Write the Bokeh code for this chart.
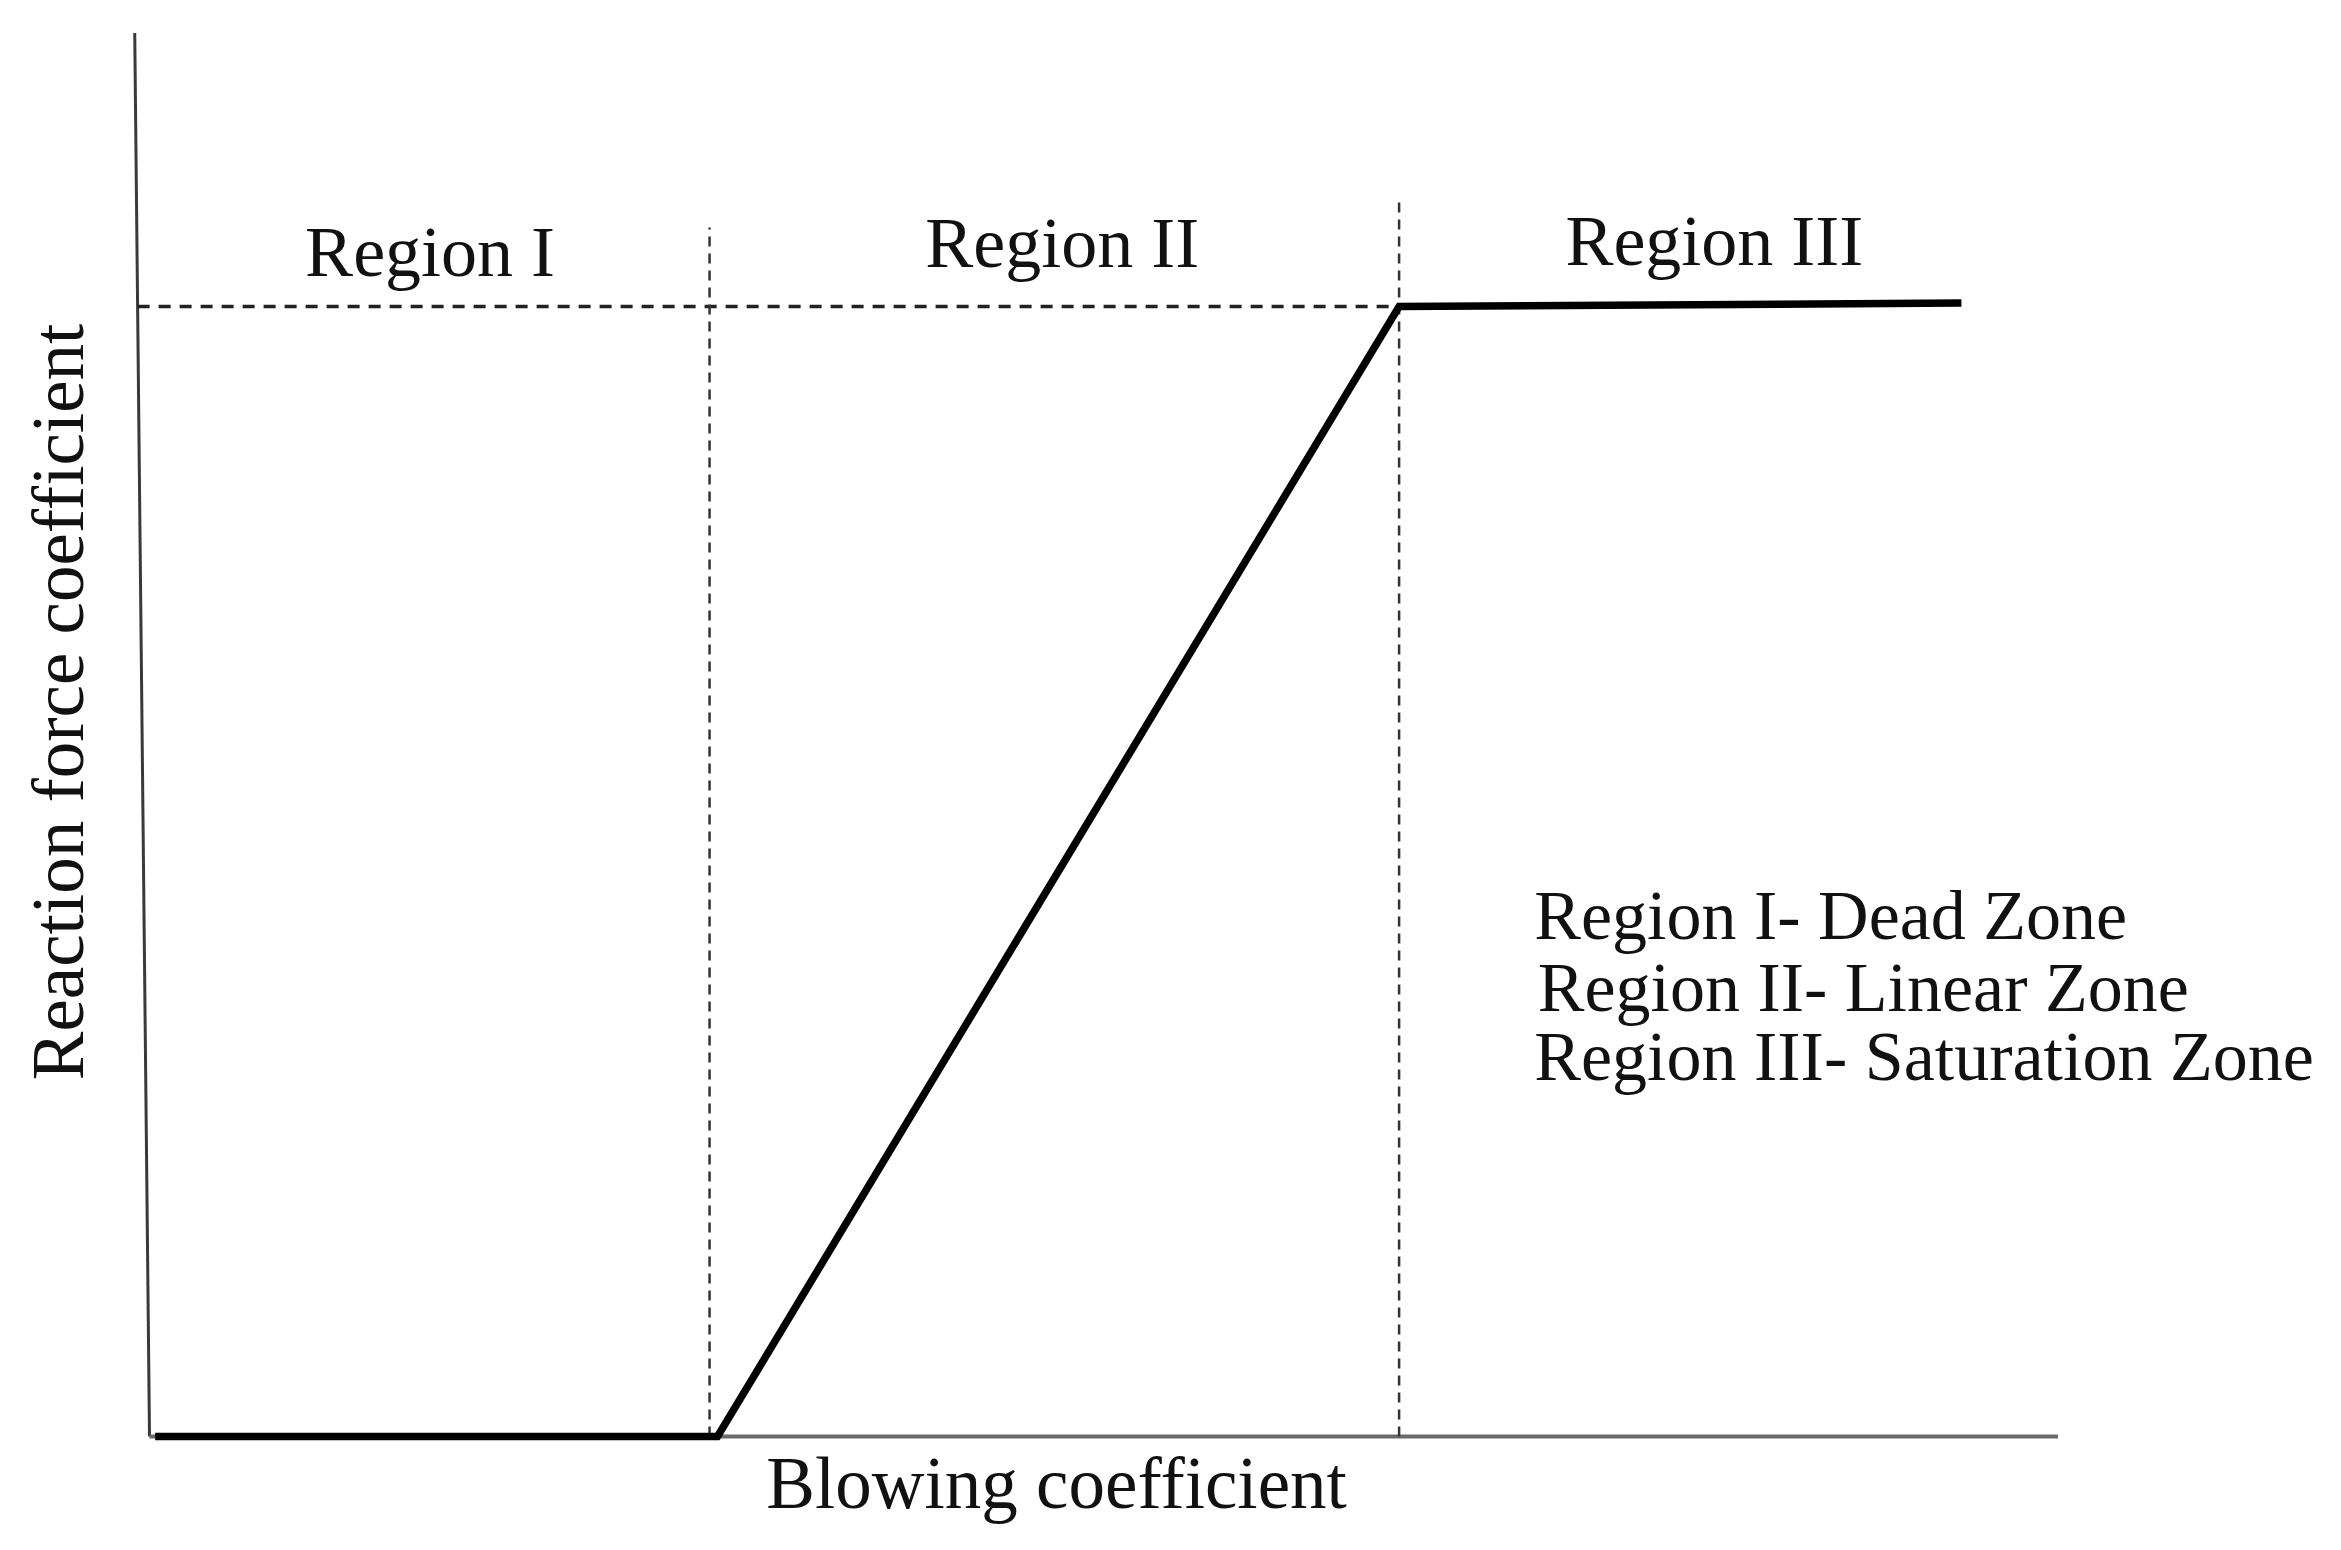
from bokeh.plotting import figure
from bokeh.models import Range1d
from bokeh.core.properties import value
from bokeh.embed import file_html
from bokeh.resources import INLINE
import math

# ---- data (conceptual units: blowing coefficient vs reaction force coefficient) ----
blowing = [0.01, 1.0, 2.2, 3.19]
reaction_force = [0.0, 0.0, 1.0, 1.003]

region_bounds = [0.986, 2.2]          # dashed vertical separators
region_bound_tops = [1.07, 1.092]
saturation_level = 1.0

region_labels = ["Region I", "Region II", "Region III"]
region_label_x = [0.494, 1.607, 2.755]
region_label_y = [1.048, 1.056, 1.058]

legend_lines = ["Region I- Dead Zone", "Region II- Linear Zone", "Region III- Saturation Zone"]
legend_x = [2.438, 2.444, 2.438]
legend_y = [0.461, 0.397, 0.336]

x_axis_end = 3.36
y_axis_top = 1.242
y_axis_top_x = -0.026

x_label = "Blowing coefficient"
y_label = "Reaction force coefficient"

# ---- layout ----
W, H = 2325, 1534
PX_X, PX_Y = 568.0, 1130.0     # pixels per data unit
ORIG_X, ORIG_Y = 149.0, 1436.0  # origin position in frame pixels

x0 = -ORIG_X / PX_X
x1 = (W - ORIG_X) / PX_X
y1 = ORIG_Y / PX_Y
y0 = -(H - ORIG_Y) / PX_Y

p = figure(width=W, height=H, x_range=Range1d(x0, x1), y_range=Range1d(y0, y1),
           output_backend="svg", toolbar_location=None, min_border=0)
p.xaxis.visible = False
p.yaxis.visible = False
p.grid.visible = False
p.outline_line_color = None
p.background_fill_color = "white"
p.border_fill_color = "white"

FONT = value("Liberation Serif")

# axes
p.line([y_axis_top_x, 0.0], [y_axis_top, 0.0], line_color="#3a3a3a", line_width=3)
p.line([0.0, x_axis_end], [0.0, 0.0], line_color="#6a6a6a", line_width=4)

# dashed guides
p.line([y_axis_top_x * saturation_level / y_axis_top, region_bounds[1]],
       [saturation_level, saturation_level],
       line_color="#222222", line_width=3.5, line_dash="12 9")
for xb, top in zip(region_bounds, region_bound_tops):
    p.line([xb, xb], [0.0, top], line_color="#333333", line_width=2.5, line_dash="10 7")

# main curve
p.line(blowing, reaction_force, line_color="black", line_width=7.5, line_join="miter")

# region labels
p.text(x=region_label_x, y=region_label_y, text=region_labels, text_font=FONT,
       text_font_size="72px", text_align="center", text_baseline="alphabetic",
       text_color="#111111")

# legend text
p.text(x=legend_x, y=legend_y, text=legend_lines, text_font=FONT,
       text_font_size="70px", text_align="left", text_baseline="alphabetic",
       text_color="#111111")

# axis titles
p.text(x=[1.597], y=[-0.0417], text=[x_label], text_font=FONT,
       text_font_size="73px", text_align="center", text_baseline="alphabetic",
       text_color="#111111")
p.text(x=[-0.160], y=[0.650], text=[y_label], text_font=FONT,
       text_font_size="73px", text_align="center", text_baseline="alphabetic",
       angle=math.pi / 2, text_color="#111111")

open("out.html", "w").write(file_html(p, INLINE))
